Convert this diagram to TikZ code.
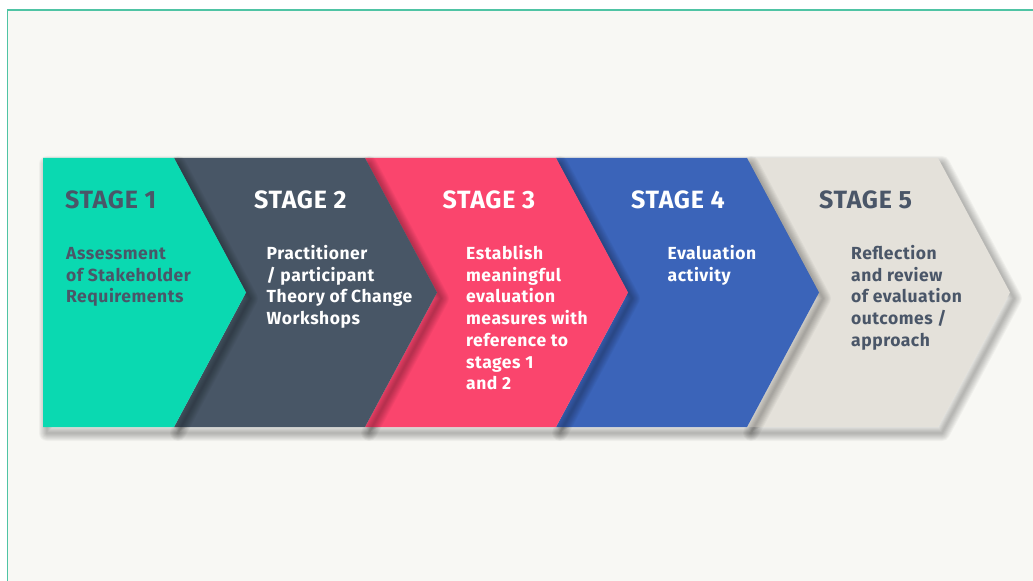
\documentclass[tikz,border=0pt]{standalone}
\usepackage{fontspec}
\setmainfont{Fira Sans}
\newfontfamily\stagefont[LetterSpace=3.0]{Fira Sans}

\definecolor{paper}{HTML}{F8F8F4}
\definecolor{framecol}{HTML}{4FC4A4}
\definecolor{teal1}{HTML}{0AD9B1}
\definecolor{slate2}{HTML}{485666}
\definecolor{pink3}{HTML}{FA456D}
\definecolor{blue4}{HTML}{3B64B9}
\definecolor{grey5}{HTML}{E4E1DA}
\definecolor{inkdark}{HTML}{4A5668}

\tikzset{
  shadowring/.style={black, opacity=0.034, line join=round,
    shift={(4,6)}},
  stagetitle/.style={anchor=base west, inner sep=0pt, text=#1,
    font=\stagefont\bfseries\fontsize{25bp}{25bp}\selectfont},
  % anchored at the baseline of the last line of the description
  stagebody/.style={anchor=base west, inner sep=0pt, align=left, text=#1,
    font=\stagefont\bfseries\fontsize{17.5bp}{21.7bp}\selectfont},
}

% #1 left x, #2 right x (top corner), #3 notch depth, #4 fill colour
% a soft drop shadow is built from stacked translucent strokes
\newcommand\stagechevron[4]{%
  \foreach \w in {2,4,...,16} {
    \draw[shadowring, line width=\w bp]
      (#1,158) -- (#2,158) -- (#2+72,292.5) -- (#2,427) -- (#1,427) -- (#1+#3,292.5) -- cycle;
  }
  \fill[#4] (#1,158) -- (#2,158) -- (#2+72,292.5) -- (#2,427) -- (#1,427) -- (#1+#3,292.5) -- cycle;
}

\begin{document}
\begin{tikzpicture}[x=1bp,y=-1bp]
  \useasboundingbox (0,0) rectangle (1033,581);
  \fill[white] (0,0) rectangle (1033,581);
  \fill[paper] (7.5,10) rectangle (1033,581);
  \draw[framecol, line width=1.3bp] (7.5,581) -- (7.5,10) -- (1033,10);

  % chevrons, back to front so each one throws its shadow on the next
  \stagechevron{747}{938}{72}{grey5}
  \stagechevron{556}{747}{72}{blue4}
  \stagechevron{365}{556}{72}{pink3}
  \stagechevron{174}{365}{72}{slate2}
  \stagechevron{43}{174}{0}{teal1}

  % stage titles
  \node[stagetitle=inkdark] (t1) at (65,209) {STAGE 1};
  \node[stagetitle=white]   (t2) at (254,209) {STAGE 2};
  \node[stagetitle=white]   (t3) at (442.5,209) {STAGE 3};
  \node[stagetitle=white]   (t4) at (631,209) {STAGE 4};
  \node[stagetitle=inkdark] (t5) at (819,209) {STAGE 5};

  % stage descriptions (first baseline at 259.5, lines 21.7 apart)
  \node[stagebody=inkdark] (b1) at (66,302.9) {Assessment\\of Stakeholder\\Requirements};
  \node[stagebody=white] (b2) at (266.5,324.6) {Practitioner\\/ participant\\Theory of Change\\Workshops};
  \node[stagebody=white] (b3) at (466,389.7) {Establish\\meaningful\\evaluation\\measures with\\reference to\\stages 1\\and 2};
  \node[stagebody=white] (b4) at (667.5,281.2) {Evaluation\\activity};
  \node[stagebody=inkdark] (b5) at (851,346.3) {Reflection\\and review\\of evaluation\\outcomes /\\approach};
\end{tikzpicture}
\end{document}
